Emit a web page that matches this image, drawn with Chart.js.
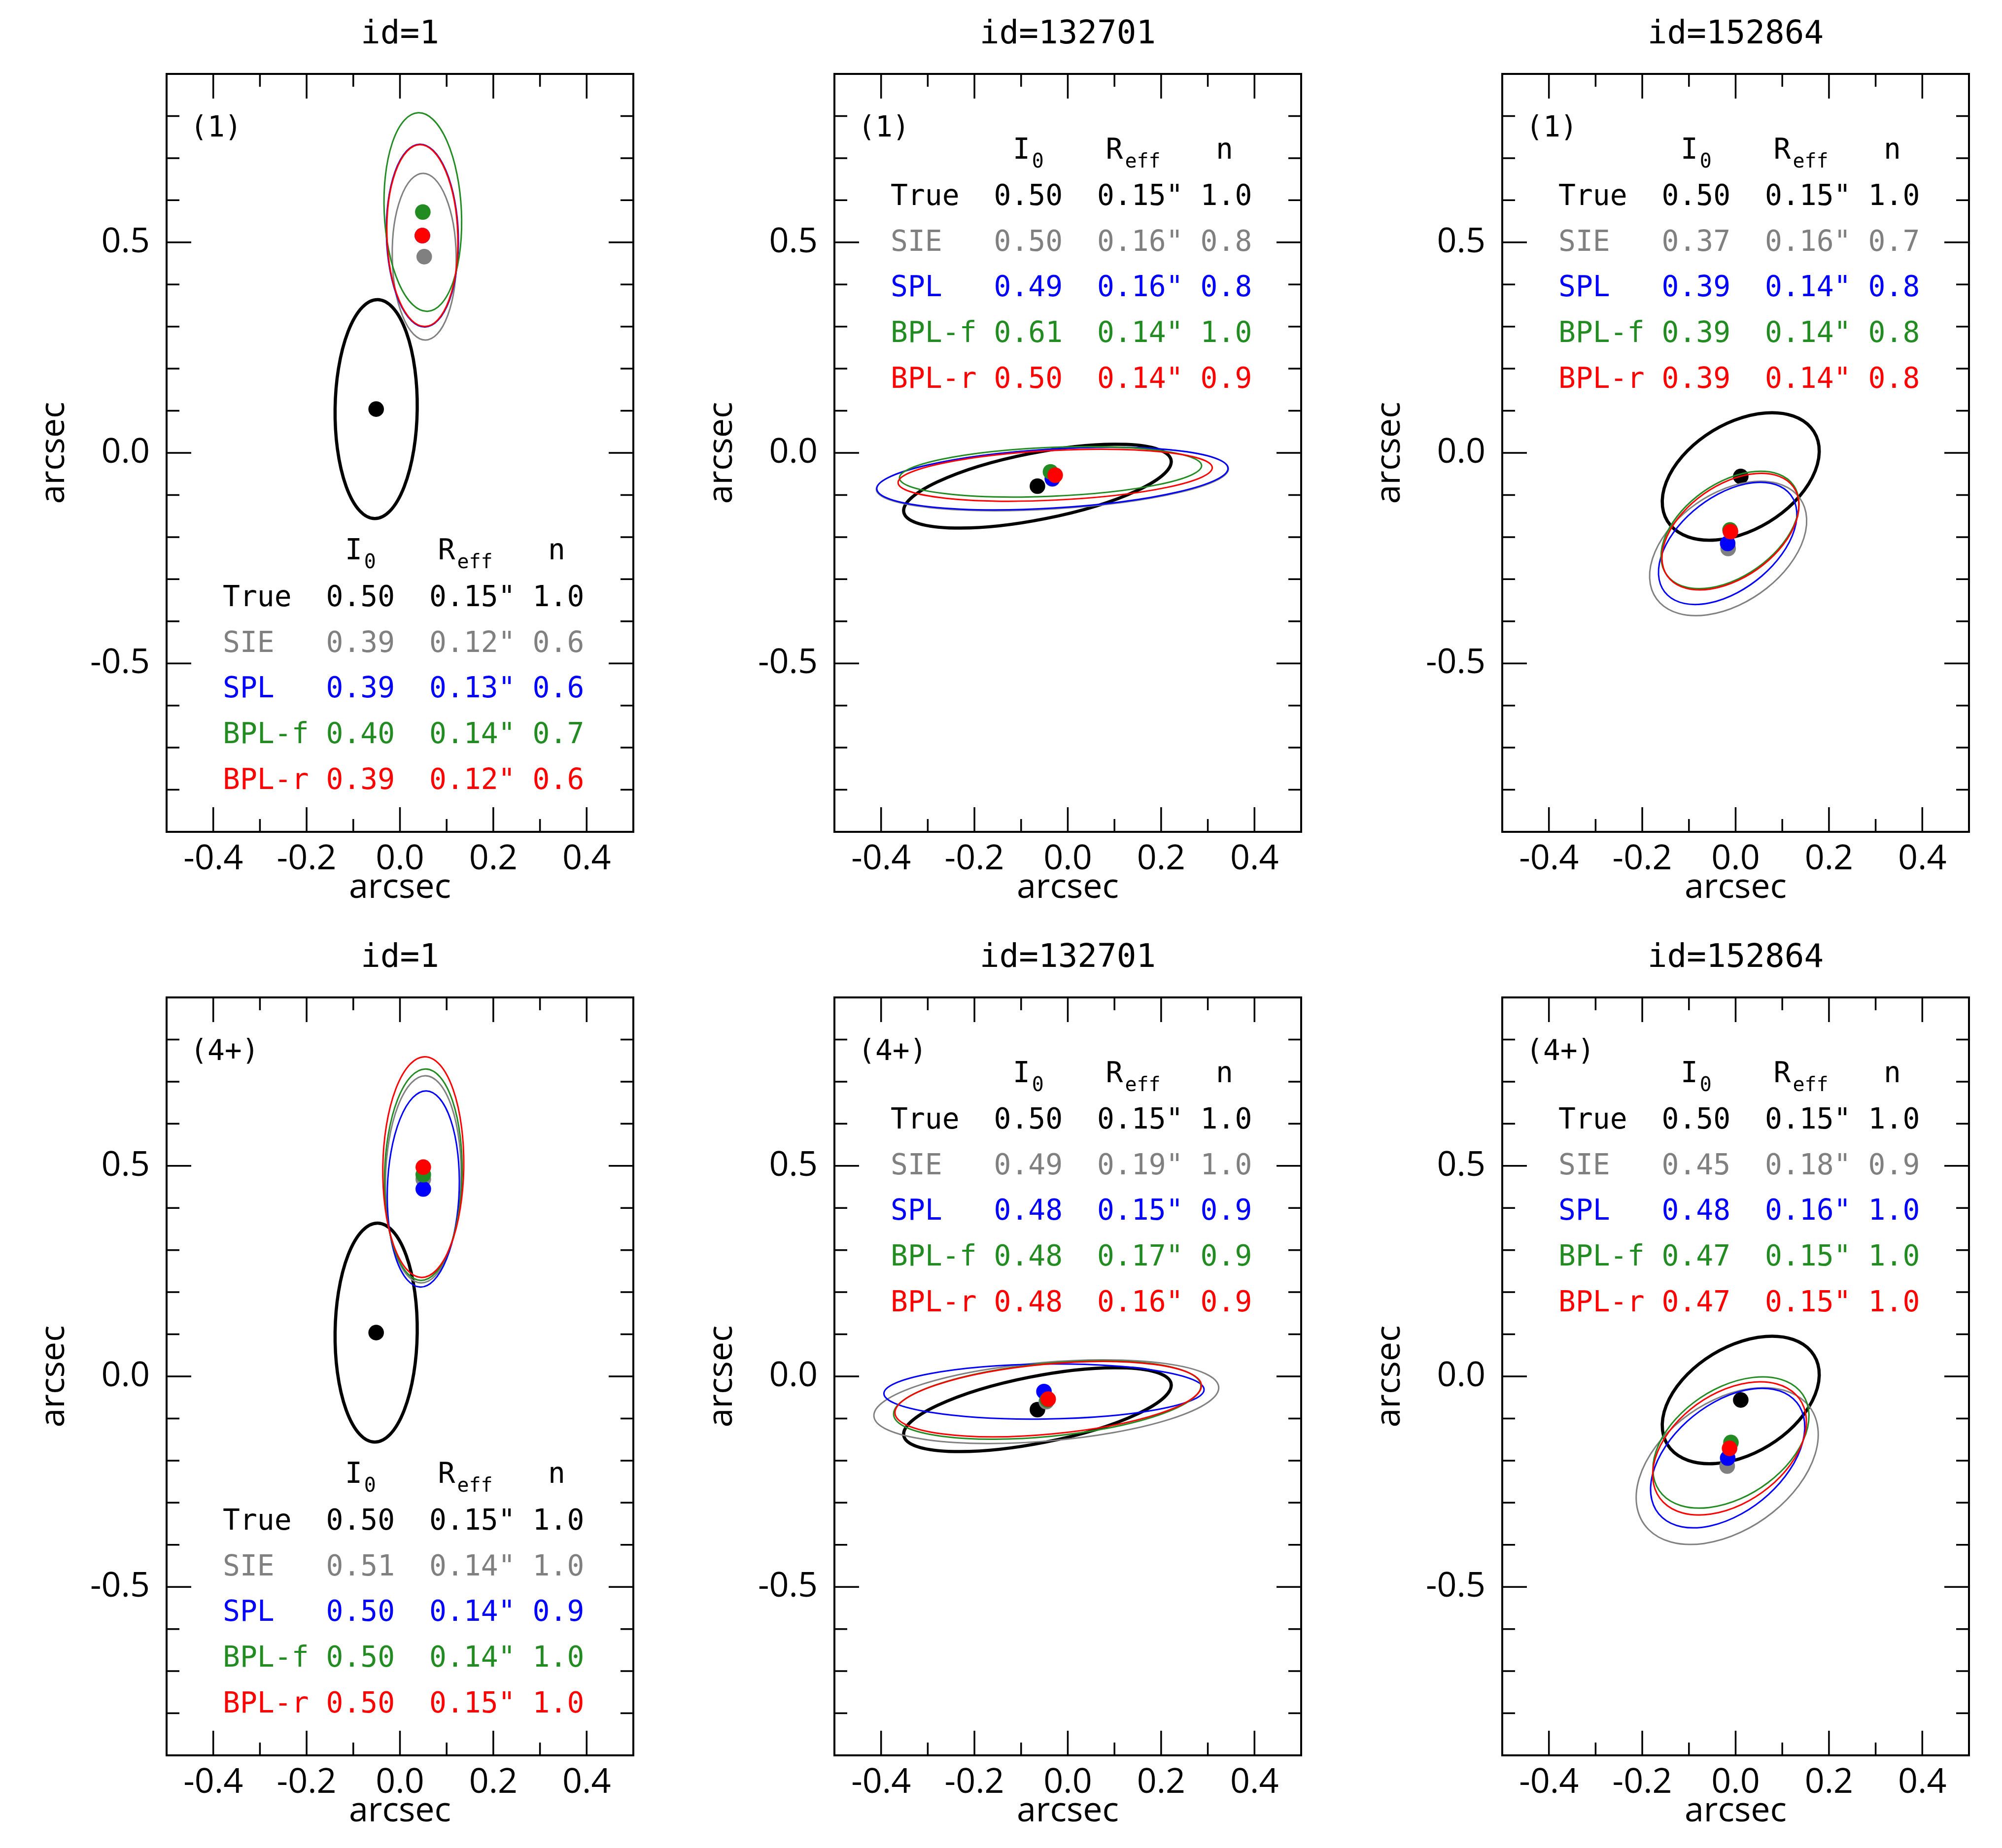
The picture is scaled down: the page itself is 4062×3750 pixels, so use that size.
<!DOCTYPE html>
<html>
<head>
<meta charset="utf-8">
<script src="https://cdn.jsdelivr.net/npm/chart.js@4.4.1/dist/chart.umd.min.js"></script>
<style>
    html, body { margin: 0; padding: 0; background: #fff; overflow: hidden; }
    #page { position: relative; width: 4062px; height: 3750px; background: #fff; }
    #page canvas { position: absolute; }
</style>
</head>
<body>
<div id="page"></div>
<script>
// Models, in drawing order
const models = ["True", "SIE", "SPL", "BPL-f", "BPL-r"];
const modelColors = ["#000000", "#808080", "#0000ff", "#228b22", "#ff0000"];

// Panels: top row is (1), bottom row is (4+)
const panelTitles = ["id=1", "id=132701", "id=152864", "id=1", "id=132701", "id=152864"];
const panelTags = ["(1)", "(1)", "(1)", "(4+)", "(4+)", "(4+)"];

// Ellipse centres in arcsec (one row per panel, one column per model)
const centerX = [
    [-0.051, 0.052, 0.048, 0.049, 0.048],
    [-0.065, -0.033, -0.033, -0.037, -0.027],
    [0.011, -0.016, -0.017, -0.012, -0.011],
    [-0.051, 0.050, 0.050, 0.050, 0.050],
    [-0.065, -0.046, -0.051, -0.044, -0.042],
    [0.011, -0.018, -0.017, -0.010, -0.013],
];
const centerY = [
    [0.104, 0.466, 0.516, 0.572, 0.516],
    [-0.079, -0.062, -0.061, -0.045, -0.053],
    [-0.056, -0.227, -0.215, -0.183, -0.187],
    [0.104, 0.468, 0.445, 0.479, 0.497],
    [-0.079, -0.060, -0.036, -0.056, -0.054],
    [-0.056, -0.213, -0.194, -0.157, -0.171],
];
// Semi-axes in arcsec and position angle in degrees (from +x, anticlockwise)
const semiMajor = [
    [0.260, 0.198, 0.217, 0.236, 0.216],
    [0.293, 0.378, 0.377, 0.324, 0.337],
    [0.190, 0.195, 0.178, 0.173, 0.172],
    [0.260, 0.246, 0.233, 0.251, 0.262],
    [0.293, 0.371, 0.343, 0.331, 0.330],
    [0.190, 0.226, 0.199, 0.192, 0.191],
];
const semiMinor = [
    [0.088, 0.0685, 0.077, 0.0827, 0.0759],
    [0.079, 0.071, 0.070, 0.058, 0.059],
    [0.123, 0.1255, 0.1065, 0.1065, 0.1055],
    [0.088, 0.081, 0.077, 0.083, 0.0867],
    [0.079, 0.0933, 0.0653, 0.0866, 0.083],
    [0.123, 0.147, 0.123, 0.124, 0.125],
];
const angleDeg = [
    [89.3, 90.8, 91.5, 92.4, 91.5],
    [12.4, 3.8, 3.8, 2.65, 3.1],
    [37.6, 41.3, 43.7, 41.3, 41.3],
    [89.3, 88.9, 88.4, 88.8, 89.2],
    [12.4, 5.45, 0.8, 6.2, 5.95],
    [37.6, 41.7, 45.2, 40.1, 42.05],
];

// Values printed in each panel's table
const tableI0 = [
    [0.50, 0.39, 0.39, 0.40, 0.39],
    [0.50, 0.50, 0.49, 0.61, 0.50],
    [0.50, 0.37, 0.39, 0.39, 0.39],
    [0.50, 0.51, 0.50, 0.50, 0.50],
    [0.50, 0.49, 0.48, 0.48, 0.48],
    [0.50, 0.45, 0.48, 0.47, 0.47],
];
const tableReff = [
    [0.15, 0.12, 0.13, 0.14, 0.12],
    [0.15, 0.16, 0.16, 0.14, 0.14],
    [0.15, 0.16, 0.14, 0.14, 0.14],
    [0.15, 0.14, 0.14, 0.14, 0.15],
    [0.15, 0.19, 0.15, 0.17, 0.16],
    [0.15, 0.18, 0.16, 0.15, 0.15],
];
const tableN = [
    [1.0, 0.6, 0.6, 0.7, 0.6],
    [1.0, 0.8, 0.8, 1.0, 0.9],
    [1.0, 0.7, 0.8, 0.8, 0.8],
    [1.0, 1.0, 0.9, 1.0, 1.0],
    [1.0, 1.0, 0.9, 0.9, 0.9],
    [1.0, 0.9, 1.0, 1.0, 1.0],
];

// Axes
const xTickLabels = [-0.4, -0.2, 0.0, 0.2, 0.4];
const xMinorTicks = [-0.3, -0.1, 0.1, 0.3];
const yTickLabels = [-0.5, 0.0, 0.5];
const yMinorTicks = [-0.8, -0.7, -0.6, -0.4, -0.3, -0.2, -0.1, 0.1, 0.2, 0.3, 0.4, 0.6, 0.7, 0.8];

// Layout (pixels)
const cellW = 1355, cellH = 1874;
const canvasW = 1340, canvasH = 1874;
const plotLeft = 338, plotTop = 150, plotW = 947, plotH = 1538;
const tableLow = [true, false, false, true, false, false];

const MONO = '"DejaVu Sans Mono", monospace';
const SANS = '"Open Sans", sans-serif';

function drawEllipse(chart, p, m) {
    const { ctx, chartArea, scales } = chart;
    const x = scales.x, y = scales.y;
    const px = x.getPixelForValue(centerX[p][m]);
    const py = y.getPixelForValue(centerY[p][m]);
    const sx = x.getPixelForValue(1) - x.getPixelForValue(0);
    const sy = y.getPixelForValue(1) - y.getPixelForValue(0);

    ctx.save();
    ctx.beginPath();
    ctx.rect(chartArea.left, chartArea.top, chartArea.width, chartArea.height);
    ctx.clip();
    ctx.save();
    ctx.translate(px, py);
    ctx.scale(sx, sy);
    ctx.rotate(angleDeg[p][m] * Math.PI / 180);
    ctx.beginPath();
    ctx.ellipse(0, 0, semiMajor[p][m], semiMinor[p][m], 0, 0, 2 * Math.PI);
    ctx.restore();
    ctx.lineWidth = m === 0 ? 6.5 : 3;
    ctx.strokeStyle = modelColors[m];
    ctx.stroke();
    ctx.restore();
}

function drawTicks(chart) {
    const { ctx, chartArea: a, scales } = chart;
    ctx.save();
    ctx.strokeStyle = "#000";
    ctx.lineWidth = 3.5;
    ctx.beginPath();
    const xt = (vals, len) => vals.forEach(v => {
        const px = scales.x.getPixelForValue(v);
        ctx.moveTo(px, a.bottom); ctx.lineTo(px, a.bottom - len);
        ctx.moveTo(px, a.top); ctx.lineTo(px, a.top + len);
    });
    const yt = (vals, len) => vals.forEach(v => {
        const py = scales.y.getPixelForValue(v);
        ctx.moveTo(a.left, py); ctx.lineTo(a.left + len, py);
        ctx.moveTo(a.right, py); ctx.lineTo(a.right - len, py);
    });
    xt(xTickLabels, 50); xt(xMinorTicks, 26);
    yt(yTickLabels, 50); yt(yMinorTicks, 26);
    ctx.stroke();
    ctx.lineWidth = 4;
    ctx.strokeRect(a.left, a.top, a.width, a.height);
    ctx.restore();
}

function withSub(ctx, main, sub, x, y, color) {
    ctx.fillStyle = color;
    ctx.font = "58px " + MONO;
    ctx.fillText(main, x, y);
    const w = ctx.measureText(main).width;
    ctx.font = "40px " + MONO;
    ctx.fillText(sub, x + w + 4, y + 18);
}

function drawTexts(chart, p) {
    const { ctx, chartArea: a } = chart;
    ctx.save();
    ctx.textBaseline = "alphabetic";
    ctx.fillStyle = "#000";

    // Title
    ctx.font = "66px " + MONO;
    ctx.textAlign = "center";
    ctx.fillText(panelTitles[p], (a.left + a.right) / 2, a.top - 62);

    // Tag
    ctx.textAlign = "left";
    ctx.font = "58px " + MONO;
    ctx.fillText(panelTags[p], a.left + 48, a.top + 127);

    // Table
    const headBase = a.top + (tableLow[p] ? 985 : 172);
    const rowBase = a.top + (tableLow[p] ? 1080 : 266);
    const rowStep = 92.7;
    const tx = a.left + 114;
    const cw = ctx.measureText("0").width;

    withSub(ctx, "I", "0", tx + 7.1 * cw, headBase, "#000");
    withSub(ctx, "R", "eff", tx + 12.5 * cw, headBase, "#000");
    ctx.font = "58px " + MONO;
    ctx.fillText("n", tx + 18.9 * cw, headBase);

    models.forEach((name, m) => {
        const row = name.padEnd(6) + tableI0[p][m].toFixed(2) + "  " +
            tableReff[p][m].toFixed(2) + '" ' + tableN[p][m].toFixed(1);
        ctx.fillStyle = modelColors[m];
        ctx.fillText(row, tx, rowBase + m * rowStep);
    });
    ctx.restore();
}

function makePanel(p) {
    const col = p % 3, rowIdx = Math.floor(p / 3);
    const canvas = document.createElement("canvas");
    canvas.width = canvasW;
    canvas.height = canvasH;
    canvas.style.left = (col * cellW) + "px";
    canvas.style.top = (rowIdx * cellH) + "px";
    canvas.style.width = canvasW + "px";
    canvas.style.height = canvasH + "px";
    document.getElementById("page").appendChild(canvas);

    const decor = {
        id: "decor" + p,
        beforeDatasetDraw(chart, args) {
            drawEllipse(chart, p, args.index);
        },
        afterDraw(chart) {
            drawTicks(chart);
            drawTexts(chart, p);
        },
    };

    const tickFont = { family: SANS, size: 70 };

    return new Chart(canvas.getContext("2d"), {
        type: "scatter",
        data: {
            datasets: models.map((name, m) => ({
                label: name,
                data: [{ x: centerX[p][m], y: centerY[p][m] }],
                backgroundColor: modelColors[m],
                borderWidth: 0,
                pointRadius: 15.8,
                pointHoverRadius: 15.8,
                order: models.length - m,
            })),
        },
        options: {
            responsive: false,
            animation: false,
            devicePixelRatio: 1,
            events: [],
            layout: {
                padding: { left: 0, top: plotTop, right: canvasW - plotLeft - plotW, bottom: 0 },
            },
            plugins: { legend: { display: false }, tooltip: { enabled: false } },
            scales: {
                x: {
                    type: "linear",
                    min: -0.5,
                    max: 0.5,
                    afterBuildTicks: s => { s.ticks = xTickLabels.map(v => ({ value: v })); },
                    afterFit: s => { s.height = canvasH - plotTop - plotH; },
                    ticks: {
                        callback: v => v.toFixed(1),
                        font: tickFont,
                        color: "#000",
                        padding: 14,
                        maxRotation: 0,
                        autoSkip: false,
                    },
                    grid: { display: false, drawTicks: false },
                    border: { display: false },
                    title: {
                        display: true,
                        text: "arcsec",
                        font: tickFont,
                        color: "#000",
                        padding: { top: 0, bottom: 30 },
                    },
                },
                y: {
                    type: "linear",
                    min: -0.9,
                    max: 0.9,
                    afterBuildTicks: s => { s.ticks = yTickLabels.map(v => ({ value: v })); },
                    afterFit: s => { s.width = plotLeft; },
                    ticks: {
                        callback: v => v.toFixed(1),
                        font: tickFont,
                        color: "#000",
                        padding: 34,
                        autoSkip: false,
                    },
                    grid: { display: false, drawTicks: false },
                    border: { display: false },
                    title: {
                        display: true,
                        text: "arcsec",
                        font: tickFont,
                        color: "#000",
                        padding: { top: 68, bottom: 0 },
                    },
                },
            },
        },
        plugins: [decor],
    });
}

Promise.all([
    document.fonts.load('70px "Open Sans"'),
    document.fonts.load('58px "DejaVu Sans Mono"'),
]).catch(() => {}).then(() => {
    for (let p = 0; p < 6; p++) makePanel(p);
});
</script>
</body>
</html>
